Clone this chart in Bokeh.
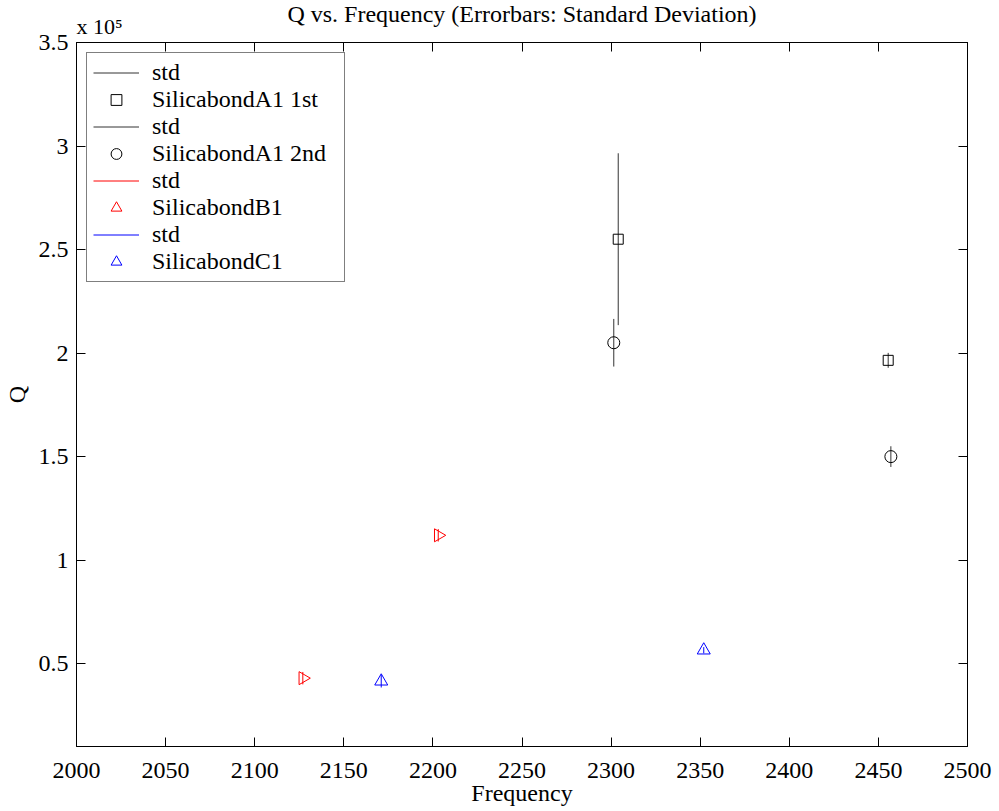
import numpy as np
from bokeh.plotting import figure
from bokeh.models import (ColumnDataSource, Range1d, LinearAxis, FixedTicker, Legend,
                          LegendItem, Title, CustomJSTickFormatter)
from bokeh.embed import file_html
from bokeh.resources import INLINE

# ---------------- data ----------------
x_ticks = [2000, 2050, 2100, 2150, 2200, 2250, 2300, 2350, 2400, 2450, 2500]
y_ticks = [0.5, 1.0, 1.5, 2.0, 2.5, 3.0, 3.5]
y_tick_labels = ["0.5", "1", "1.5", "2", "2.5", "3", "3.5"]
q_scale = 1e5

a1_1st_freq = [2304.0, 2455.5]
a1_1st_q = [255000, 196500]
a1_1st_std = [41500, 3600]

a1_2nd_freq = [2301.5, 2457.0]
a1_2nd_q = [205000, 150000]
a1_2nd_std = [11500, 5000]

b1_freq = [2127.0, 2203.0]
b1_q = [43000, 112000]
b1_std = [3000, 3000]

c1_freq = [2171.0, 2352.0]
c1_q = [41500, 56500]
c1_std = [3000, 1500]

FONT = "Liberation Serif"

p = figure(width=995, height=811, x_range=Range1d(2000, 2500), y_range=Range1d(0.1, 3.5),
           output_backend="svg", toolbar_location=None, title="",
           min_border_left=76, min_border_right=28, min_border_top=42, min_border_bottom=65)
p.background_fill_color = "white"
p.border_fill_color = "white"
p.outline_line_color = "black"
p.outline_line_width = 1
p.xgrid.grid_line_color = None
p.ygrid.grid_line_color = None

def style_axis(ax, ticks):
    ax.ticker = FixedTicker(ticks=ticks)
    ax.major_tick_in = 9
    ax.major_tick_out = 0
    ax.minor_tick_line_color = None
    ax.axis_line_color = "black"
    ax.major_tick_line_color = "black"
    ax.major_label_text_font = FONT
    ax.major_label_text_font_size = "24px"
    ax.major_label_text_color = "black"
    ax.axis_label_text_font = FONT
    ax.axis_label_text_font_size = "24px"
    ax.axis_label_text_font_style = "normal"
    ax.axis_label_text_color = "black"

style_axis(p.xaxis[0], x_ticks)
style_axis(p.yaxis[0], y_ticks)
p.xaxis[0].axis_label = "Frequency"
p.yaxis[0].axis_label = "Q"
p.xaxis[0].major_label_standoff = 16
p.xaxis[0].axis_label_standoff = -1
p.yaxis[0].major_label_standoff = 8
p.yaxis[0].axis_label_standoff = 6
p.yaxis[0].major_label_overrides = {t: l for t, l in zip(y_ticks, y_tick_labels)}

blank = CustomJSTickFormatter(code="return ''")
for side, ticks in (("right", y_ticks), ("above", x_ticks)):
    ax = LinearAxis(formatter=blank)
    style_axis(ax, ticks)
    ax.major_label_text_font_size = "1px"
    ax.major_label_standoff = 0
    p.add_layout(ax, side)

# exponent note (left) and main title (centre) above the frame
p.add_layout(Title(text="x 10\u2075", align="left", text_font=FONT, text_font_size="22px",
                   text_font_style="normal", text_color="black", standoff=8, offset=0), "above")
p.add_layout(Title(text="Q vs. Frequency (Errorbars: Standard Deviation)", align="center",
                   text_font=FONT, text_font_size="24px", text_font_style="normal",
                   text_color="black", standoff=-39), "above")

def add_series(freq, q, std, color, marker, size, angle=0.0, err_color=None):
    q = np.asarray(q, dtype=float) / q_scale
    s = np.asarray(std, dtype=float) / q_scale
    src = ColumnDataSource(dict(x=freq, y=q, lo=q - s, hi=q + s, ang=[angle] * len(freq)))
    seg = p.segment(x0="x", y0="lo", x1="x", y1="hi", source=src,
                    line_color=err_color or color, line_width=1)
    sc = p.scatter(x="x", y="y", source=src, marker=marker, size=size, angle="ang",
                   fill_color=None, line_color=color, line_width=1)
    return seg, sc

e1, m1 = add_series(a1_1st_freq, a1_1st_q, a1_1st_std, "black", "square", 10, err_color="#333333")
e2, m2 = add_series(a1_2nd_freq, a1_2nd_q, a1_2nd_std, "black", "circle", 12, err_color="#333333")
e3, m3 = add_series(b1_freq, b1_q, b1_std, "#ff0000", "triangle", 13, angle=-np.pi / 2)
e4, m4 = add_series(c1_freq, c1_q, c1_std, "#0000ff", "triangle", 13)

legend = Legend(items=[
    LegendItem(label="std", renderers=[e1]),
    LegendItem(label="SilicabondA1 1st", renderers=[m1]),
    LegendItem(label="std", renderers=[e2]),
    LegendItem(label="SilicabondA1 2nd", renderers=[m2]),
    LegendItem(label="std", renderers=[e3]),
    LegendItem(label="SilicabondB1", renderers=[m3]),
    LegendItem(label="std", renderers=[e4]),
    LegendItem(label="SilicabondC1", renderers=[m4]),
], location="top_left")
legend.margin = 10
legend.padding = 6
legend.spacing = 0
legend.label_height = 27
legend.glyph_height = 27
legend.glyph_width = 46
legend.label_standoff = 13
legend.label_width = 186
legend.label_text_font = FONT
legend.label_text_font_size = "24px"
legend.label_text_color = "black"
legend.border_line_color = "black"
legend.border_line_width = 1
legend.background_fill_color = "white"
legend.background_fill_alpha = 1.0
p.add_layout(legend, "center")

open("out.html", "w").write(file_html(p, INLINE))
